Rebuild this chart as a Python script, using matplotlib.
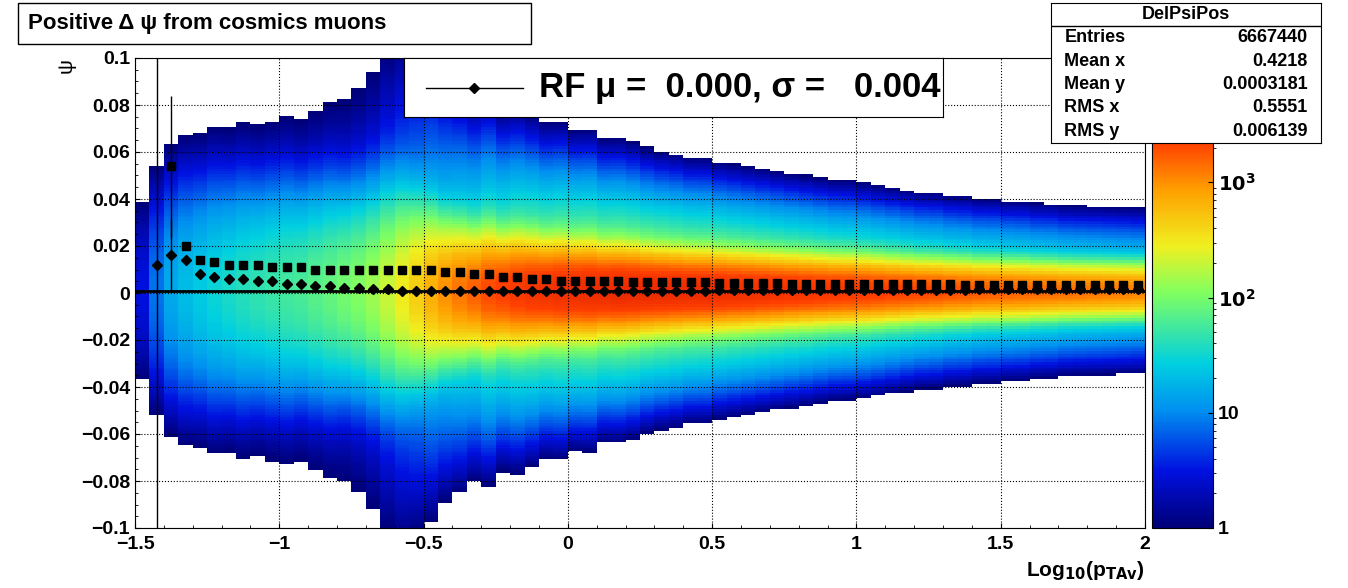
import numpy as np
import matplotlib.pyplot as plt
from matplotlib.colors import LogNorm, LinearSegmentedColormap

plt.rcParams['font.family'] = ['Liberation Sans', 'DejaVu Sans']

# column centres of the 2D histogram (Log10 pT)
xc = np.round(np.arange(-1.475, 2.0, 0.05), 3)
# peak count per column
peak = [3, 8, 15, 20, 25, 30, 35, 40, 45, 50,
        55, 60, 70, 80, 95, 110, 140, 200, 300, 450,
        700, 1000, 1300, 1600, 2000, 2300, 2600, 2900, 3100, 3300,
        3500, 3600, 3700, 3800, 3800, 3800, 3800, 3700, 3700, 3600,
        3500, 3400, 3300, 3200, 3100, 3000, 2900, 2800, 2700, 2600,
        2500, 2400, 2300, 2200, 2100, 2000, 1900, 1800, 1700, 1650,
        1600, 1550, 1500, 1450, 1400, 1350, 1300, 1250, 1200, 1150]
# core width per column
sig = [0.025, 0.025, 0.025, 0.025, 0.024, 0.024, 0.023, 0.023, 0.022, 0.022,
       0.022, 0.021, 0.021, 0.021, 0.020, 0.020, 0.020, 0.020, 0.019, 0.017,
       0.015, 0.013, 0.012, 0.011, 0.011, 0.010, 0.010, 0.0095, 0.009, 0.009,
       0.0085, 0.0085, 0.008, 0.008, 0.0078, 0.0075, 0.0073, 0.0072, 0.007, 0.007,
       0.0068, 0.0067, 0.0066, 0.0065, 0.0064, 0.0063, 0.0062, 0.0061, 0.006, 0.006,
       0.0059, 0.0058, 0.0057, 0.0056, 0.0055, 0.0055, 0.0054, 0.0054, 0.0053, 0.0053,
       0.0052, 0.0052, 0.0051, 0.0051, 0.005, 0.005, 0.005, 0.005, 0.005, 0.005]
# profile points: RMS (squares) and mean (diamonds)
sq = [np.nan, np.nan, 0.054, 0.020, 0.014, 0.013, 0.012, 0.012, 0.012, 0.011,
      0.011, 0.011, 0.010, 0.010, 0.010, 0.010, 0.010, 0.010, 0.010, 0.010,
      0.010, 0.009, 0.009, 0.008, 0.008, 0.007, 0.007, 0.006, 0.006, 0.005,
      0.005, 0.005, 0.005, 0.005, 0.0045, 0.0045, 0.0045, 0.0045, 0.0045, 0.0045,
      0.0042, 0.0042, 0.0042, 0.0042, 0.0042, 0.004, 0.004, 0.004, 0.004, 0.004,
      0.004, 0.004, 0.0038, 0.0038, 0.0038, 0.0037, 0.0037, 0.0036, 0.0036, 0.0035,
      0.0035, 0.0034, 0.0034, 0.0033, 0.0033, 0.0033, 0.0032, 0.0032, 0.0032, 0.0032]
sq_err = [0] * 70
sq_err[2] = 0.03
dm = [np.nan, 0.012, 0.016, 0.014, 0.008, 0.007, 0.006, 0.006, 0.005, 0.005,
      0.004, 0.004, 0.003, 0.003, 0.002, 0.002, 0.0015, 0.0015, 0.001, 0.001,
      0.001, 0.001, 0.001, 0.001, 0.001, 0.001, 0.001, 0.001, 0.001, 0.001,
      0.001, 0.001, 0.001, 0.001, 0.001, 0.001, 0.001, 0.001, 0.001, 0.001,
      0.0012, 0.0012, 0.0012, 0.0012, 0.0012, 0.0012, 0.0012, 0.0012, 0.0012, 0.0012,
      0.0013, 0.0013, 0.0013, 0.0013, 0.0014, 0.0014, 0.0014, 0.0014, 0.0015, 0.0015,
      0.0015, 0.0015, 0.0016, 0.0016, 0.0016, 0.0016, 0.0017, 0.0017, 0.0017, 0.0017]
dm_err = [0] * 70
dm_err[1] = 0.2
dm_err[2] = 0.015

yedges = np.linspace(-0.1, 0.1, 171)
yc = 0.5 * (yedges[1:] + yedges[:-1])
xedges = np.append(xc - 0.025, xc[-1] + 0.025)

P = np.array(peak)[None, :]
S = np.array(sig)[None, :]
Y = yc[:, None] - 0.001
H = P * (0.965 * np.exp(-0.5 * (Y / S) ** 2) + 0.035 * np.exp(-0.5 * (Y / (2.6 * S)) ** 2))
H = np.ma.masked_less(H, 1)

cmap = LinearSegmentedColormap.from_list('root', [
    (0.0, '#000078'), (0.12, '#0010e0'), (0.25, '#0090f0'), (0.35, '#00d0e0'),
    (0.5, '#80ff60'), (0.6, '#f0f020'), (0.72, '#ffa000'), (0.82, '#ff4000'),
    (1.0, '#c00000')])

fig = plt.figure(figsize=(13.48, 5.88), dpi=100)
ax = fig.add_axes([135 / 1348, 60 / 588, 1010 / 1348, 470 / 588])
cax = fig.add_axes([1152 / 1348, 60 / 588, 61 / 1348, 470 / 588])

mesh = ax.pcolormesh(xedges, yedges, H, cmap=cmap, norm=LogNorm(1, 12000))
ax.axhline(0.001, color='black', lw=2)
ax.errorbar(xc, sq, yerr=sq_err, fmt='s', color='black', ms=6, lw=1)
ax.errorbar(xc, dm, yerr=dm_err, fmt='D', color='black', ms=5, lw=1)

ax.set_xlim(-1.5, 2)
ax.set_ylim(-0.1, 0.1)
ax.set_xticks(np.arange(-1.5, 2.01, 0.5))
ax.set_xticklabels(['\u22121.5', '\u22121', '\u22120.5', '0', '0.5', '1', '1.5', '2'])
yt = np.round(np.arange(-0.1, 0.101, 0.02), 2)
ax.set_yticks(yt)
ax.set_yticklabels([('\u2212' if v < 0 else '') + ('%g' % abs(v)) for v in yt])
ax.minorticks_on()
ax.tick_params(direction='in', which='both', top=False, right=False, labelsize=14)
ax.tick_params(axis='x', pad=6)
for lab in ax.get_xticklabels() + ax.get_yticklabels():
    lab.set_fontweight('bold')
ax.grid(True, which='major', ls=':', color='black', lw=0.8)
ax.set_xlabel('Log$_{\\mathbf{10}}$(p$_{\\mathbf{TAv}}$)', fontsize=15, fontweight='bold', loc='right')
ax.set_ylabel('\u03c8', fontsize=15, loc='top')

cb = fig.colorbar(mesh, cax=cax)
cb.set_ticks([1, 10, 100, 1000])
cb.set_ticklabels(['1', '10', '$\\mathbf{10^2}$', '$\\mathbf{10^3}$'])
cb.ax.tick_params(labelsize=14, direction='in')
for lab in cb.ax.get_yticklabels():
    lab.set_fontweight('bold')

fig.text(28 / 1348, 1 - 23 / 588, 'Positive \u0394 \u03c8 from cosmics muons' + ' ' * 22, fontsize=16,
         fontweight='bold', va='center',
         bbox=dict(boxstyle='square,pad=0.45', fc='white', ec='black'))

# legend box
lg = fig.add_axes([404 / 1348, 1 - 117 / 588, 539 / 1348, 59 / 588])
lg.set_xticks([]); lg.set_yticks([])
lg.set_xlim(0, 1); lg.set_ylim(0, 1)
lg.plot([0.04, 0.22], [0.5, 0.5], color='black', lw=1)
lg.plot([0.13], [0.5], 'D', color='black', ms=5)
lg.text(0.25, 0.5, 'RF \u03bc =  0.000, \u03c3 =   0.004', fontsize=25, fontweight='bold', va='center')

# stats box
st = fig.add_axes([1051 / 1348, 1 - 143 / 588, 270 / 1348, 140 / 588])
st.set_xticks([]); st.set_yticks([])
st.set_xlim(0, 1); st.set_ylim(0, 6)
st.axhline(5, color='black', lw=1)
st.text(0.5, 5.5, 'DelPsiPos', ha='center', va='center', fontsize=13, fontweight='bold')
rows = [('Entries', '6667440'), ('Mean x', '0.4218'), ('Mean y', '0.0003181'),
        ('RMS x', '0.5551'), ('RMS y', '0.006139')]
for i, (k, v) in enumerate(rows):
    st.text(0.05, 4.5 - i, k, va='center', fontsize=13, fontweight='bold')
    st.text(0.95, 4.5 - i, v, va='center', ha='right', fontsize=13, fontweight='bold')

fig.savefig('out.png', dpi=100)
